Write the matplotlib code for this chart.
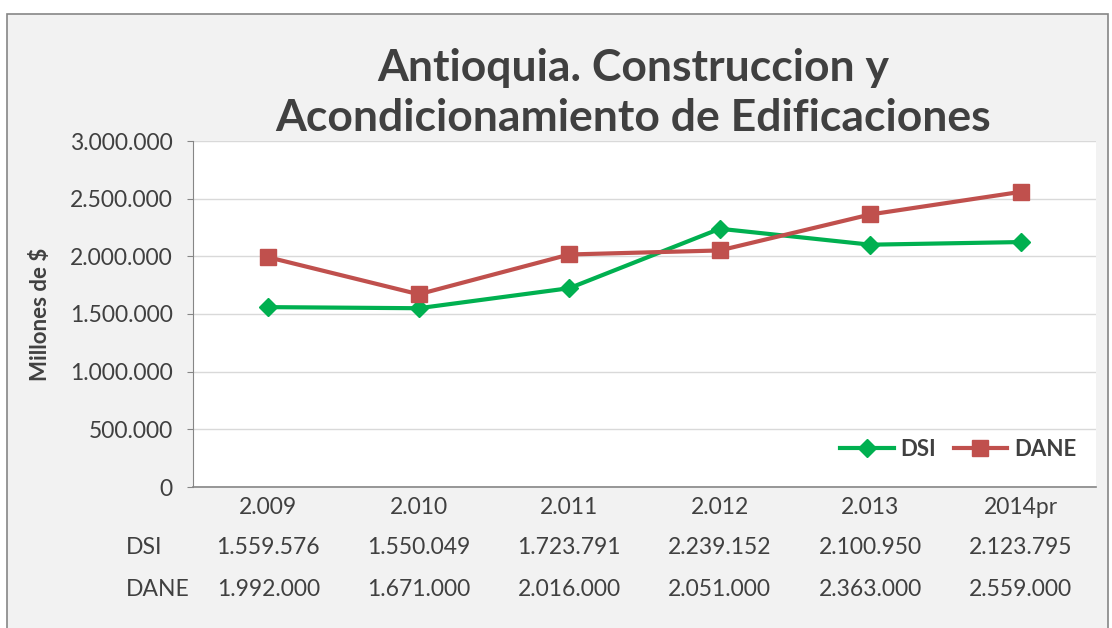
import matplotlib.pyplot as plt
from matplotlib.patches import Rectangle

plt.rcParams['font.family'] = ['Lato', 'DejaVu Sans']

categorias = ['2.009', '2.010', '2.011', '2.012', '2.013', '2014pr']
dsi = [1559576, 1550049, 1723791, 2239152, 2100950, 2123795]
dane = [1992000, 1671000, 2016000, 2051000, 2363000, 2559000]
dsi_txt = ['1.559.576', '1.550.049', '1.723.791', '2.239.152', '2.100.950', '2.123.795']
dane_txt = ['1.992.000', '1.671.000', '2.016.000', '2.051.000', '2.363.000', '2.559.000']
yticks = [0, 500000, 1000000, 1500000, 2000000, 2500000, 3000000]
ylabels = ['0', '500.000', '1.000.000', '1.500.000', '2.000.000', '2.500.000', '3.000.000']

gris_txt = '#404040'
verde = '#00B050'
rojo = '#C0504D'
fs = 16.5

fig = plt.figure(figsize=(11.12, 6.28), dpi=100, facecolor='white')
# fondo del grafico con borde
fig.patches.append(Rectangle((7/1112, -0.01), 1101/1112, 1 - 14/628 + 0.01,
                             transform=fig.transFigure, facecolor='#F2F2F2',
                             edgecolor='#868686', linewidth=1.2, zorder=-10))

ax = fig.add_axes([193/1112, 1 - 487/628, 903/1112, 346/628])
ax.set_facecolor('white')

x = list(range(len(categorias)))
ax.plot(x, dsi, color=verde, linewidth=3, marker='D', markersize=9, label='DSI', zorder=3)
ax.plot(x, dane, color=rojo, linewidth=3, marker='s', markersize=11, label='DANE', zorder=3)

ax.set_xlim(-0.5, len(categorias) - 0.5)
ax.set_ylim(0, 3000000)
ax.set_yticks(yticks)
ax.set_yticklabels(ylabels, fontsize=fs, color=gris_txt)
ax.set_xticks(x)
ax.set_xticklabels([])
ax.tick_params(axis='x', length=0)
ax.tick_params(axis='y', length=4.5, color='#868686', pad=10)
ax.grid(axis='y', color='#D9D9D9', linewidth=1)
ax.set_axisbelow(True)
for s in ['top', 'right']:
    ax.spines[s].set_visible(False)
ax.spines['left'].set_color('#868686')
ax.spines['bottom'].set_color('#868686')
ax.spines['bottom'].set_linewidth(1.2)

ax.set_ylabel('Millones de $', fontsize=16, fontweight='bold', color=gris_txt, labelpad=14)

# tabla de datos
tr = ax.get_xaxis_transform()
for i in x:
    ax.text(i, -0.058, categorias[i], transform=tr, ha='center', va='center', fontsize=fs, color=gris_txt)
    ax.text(i, -0.176, dsi_txt[i], transform=tr, ha='center', va='center', fontsize=fs, color=gris_txt)
    ax.text(i, -0.295, dane_txt[i], transform=tr, ha='center', va='center', fontsize=fs, color=gris_txt)
fig.text(126/1112, 1 - 548/628, 'DSI', ha='left', va='center', fontsize=fs, color=gris_txt)
fig.text(126/1112, 1 - 589/628, 'DANE', ha='left', va='center', fontsize=fs, color=gris_txt)

ax.legend(loc='lower right', ncol=2, frameon=False, handlelength=2.4,
          columnspacing=0.8, handletextpad=0.3, prop={'weight': 'bold', 'size': 16},
          bbox_to_anchor=(1.0, 0.02))
for t in ax.get_legend().get_texts():
    t.set_color(gris_txt)

fig.text(633/1112, 1 - 93/628, 'Antioquia. Construccion y\nAcondicionamiento de Edificaciones',
         ha='center', va='center', fontsize=32, fontweight='bold', color=gris_txt, linespacing=1.3)

fig.savefig('out.png', dpi=100, facecolor='white')
